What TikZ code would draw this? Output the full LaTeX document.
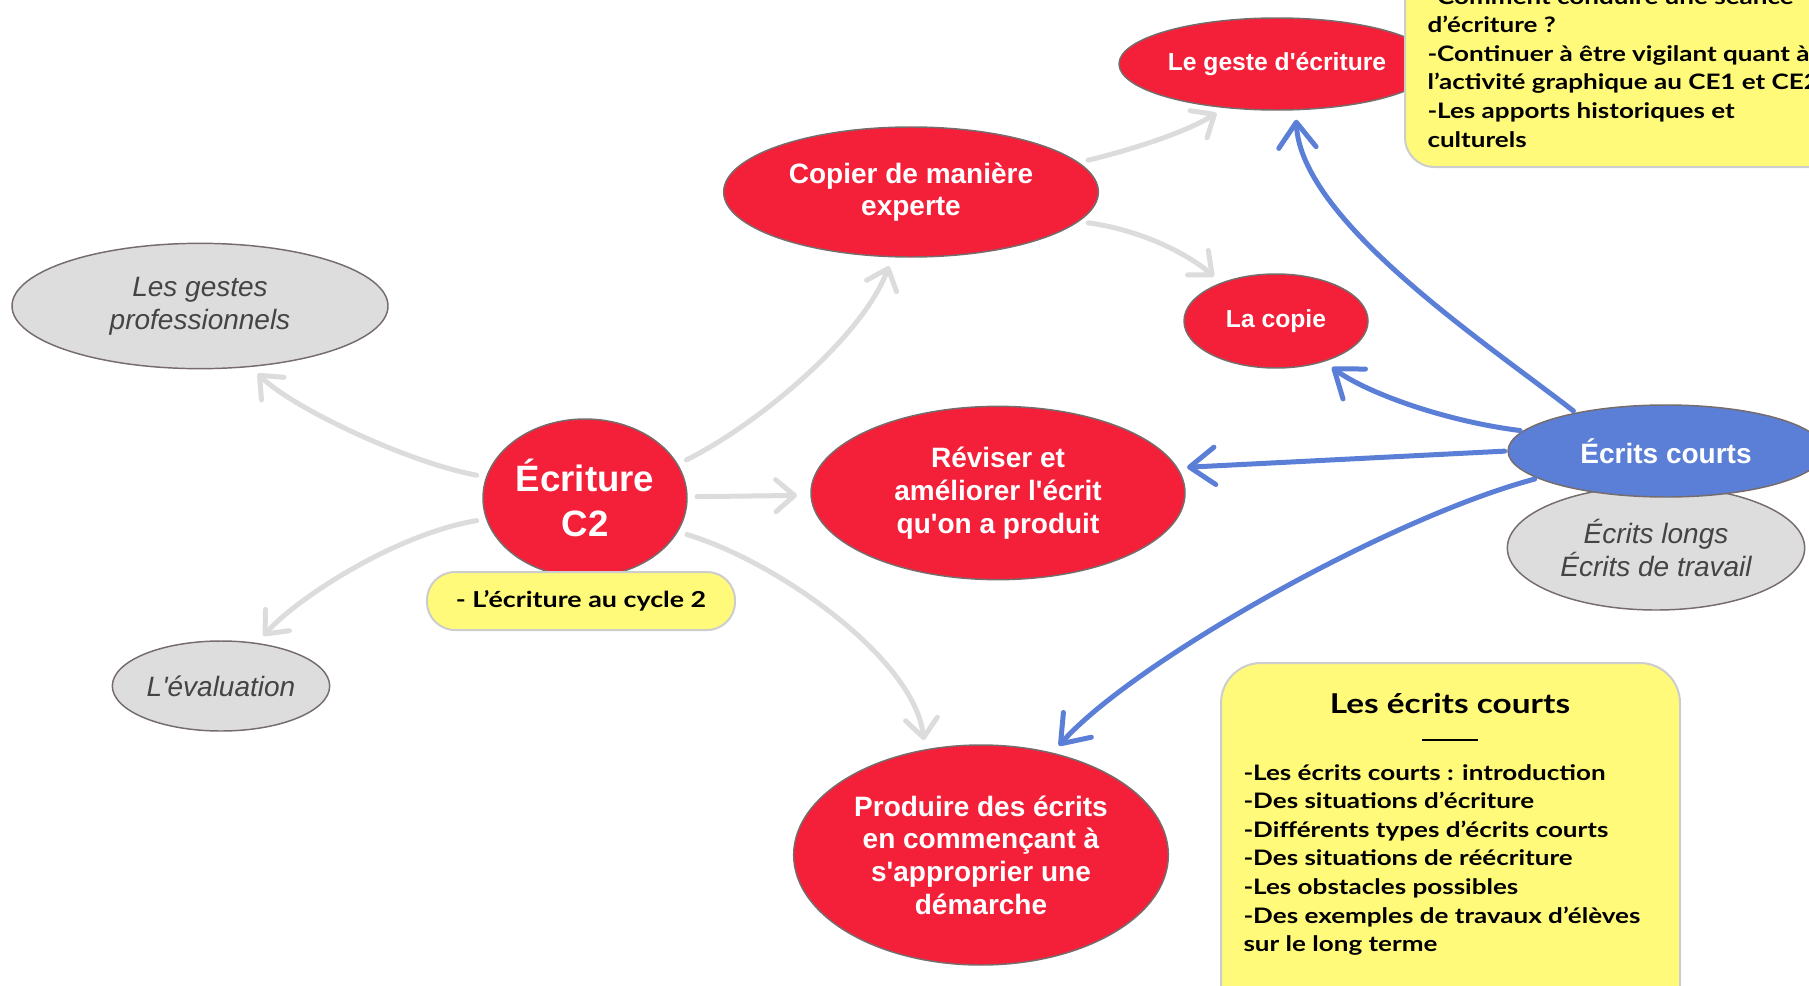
\documentclass[tikz,border=0pt]{standalone}
\usepackage{fontspec}
\setmainfont{Liberation Sans}
\newfontfamily\bubfont{Liberation Sans}
\newfontfamily\notefont{Lato}[FakeStretch=1.22]
\usetikzlibrary{shapes.geometric,arrows.meta}

\definecolor{bubred}{RGB}{244,32,58}
\definecolor{bubblue}{RGB}{91,127,214}
\definecolor{bubgray}{RGB}{221,221,221}
\definecolor{bubedge}{RGB}{118,108,108}
\definecolor{graytxt}{RGB}{68,68,68}
\definecolor{linkgray}{RGB}{220,220,220}
\definecolor{notefill}{RGB}{255,250,122}
\definecolor{noteedge}{RGB}{205,205,205}

\tikzset{every picture/.style={line width=0.75pt}}
\tikzset{
  bub/.style={ellipse, draw=bubedge, line width=1.1pt, inner sep=0pt, align=center},
  redbub/.style={bub, fill=bubred, text=white, font=\bubfont\bfseries\fontsize{21}{24.5}\selectfont},
  bluebub/.style={bub, fill=bubblue, text=white, font=\bubfont\bfseries\fontsize{21}{25}\selectfont},
  graybub/.style={bub, fill=bubgray, text=graytxt, font=\bubfont\itshape\fontsize{21}{25}\selectfont},
  notebox/.style={draw=noteedge, line width=1.5pt, fill=notefill},
  notetext/.style={inner sep=0pt, align=left, font=\notefont\bfseries\fontsize{16}{21.4}\selectfont},
  graylink/.style={draw=linkgray, line width=3.75pt, line cap=round, shorten <=7pt, shorten >=7pt,
    -{Straight Barb[length=14pt,width=24pt,line cap=round,line join=round]}},
  bluelink/.style={draw=bubblue, line width=3.75pt, line cap=round, shorten <=2pt, shorten >=7pt,
    -{Straight Barb[length=19pt,width=28pt,line cap=round,line join=round]}},
}

\begin{document}
\begin{tikzpicture}[x=0.75pt,y=0.75pt,yscale=-1,xscale=1]
\useasboundingbox (0,0) rectangle (1809,985);

%Ellipse: centre
\draw (585,498) node [redbub, minimum width=153pt, minimum height=118.5pt] [font=\bubfont\bfseries\fontsize{27.5}{34}\selectfont] (c2) {Écriture\\C2};

%Ellipses: grey side topics
\draw (200,306) node [graybub, minimum width=282pt, minimum height=94pt] (gestes) {Les gestes\\professionnels};
\draw (221,686) node [graybub, minimum width=163pt, minimum height=67.5pt] (evaluation) {L'évaluation};

%Ellipses: red topics
\draw (911,192) node [redbub, minimum width=281pt, minimum height=97.5pt] (copier) {Copier de manière\\experte};
\draw (998,493) node [redbub, minimum width=280.5pt, minimum height=130pt] (reviser) {Réviser et\\améliorer l'écrit\\qu'on a produit};
\draw (981,855) node [redbub, minimum width=281pt, minimum height=165pt] (produire) {Produire des écrits\\en commençant à\\s'approprier une\\démarche};
\draw (1277,64) node [redbub, minimum width=237pt, minimum height=69pt] [font=\bubfont\bfseries\fontsize{18.5}{22}\selectfont] (geste) {Le geste d'écriture};
\draw (1276,321) node [redbub, minimum width=138pt, minimum height=70.5pt] [font=\bubfont\bfseries\fontsize{18.5}{22}\selectfont] (copie) {La copie};

%Ellipses: kinds of writing
\draw (1656,548) node [graybub, minimum width=223pt, minimum height=93pt] (longs) {Écrits longs\\Écrits de travail};
\draw (1666,451) node [bluebub, minimum width=237pt, minimum height=69pt] (courts) {Écrits courts};

%Grey links
\draw [graylink] (c2.168) .. controls +(-80,-15) and +(40,40) .. (gestes.-50);
\draw [graylink] (c2.192) .. controls +(-90,15) and +(40,-45) .. (evaluation.50);
\draw [graylink] (c2.20) .. controls +(80,-40) and +(-30,80) .. (copier.-106);
\draw [graylink, shorten >=10pt] (c2) -- (reviser);
\draw [graylink] (c2.-20) .. controls +(100,30) and +(-10,-90) .. (produire.118);
\draw [graylink] (copier.10) .. controls +(50,-12) and +(-40,25) .. (geste.-140);
\draw [graylink] (copier.-10) .. controls +(60,8) and +(-35,-30) .. (copie.145);

%Blue links
\draw [bluelink] (courts.157) .. controls +(-90,-70) and +(5,110) .. (geste.-68);
\draw [bluelink] (courts.172) .. controls +(-80,-10) and +(40,30) .. (copie.-40);
\draw [bluelink] (courts.west) -- (reviser.8);
\draw [bluelink] (courts.-168) .. controls +(-150,40) and +(80,-90) .. (produire.55);

%Yellow notes
\draw (581,601) node [notebox, rounded corners=21pt, minimum width=231pt, minimum height=43.5pt] [font=\notefont\bfseries\fontsize{16.5}{20}\selectfont] (cycle) {- L’écriture au cycle 2};

\draw [notebox, rounded corners=22pt] (1405,-60) rectangle (1870,167);
\draw (1427,-12) node [notetext, anchor=north west] (seance) {-Comment conduire une séance\\d’écriture ?\\-Continuer à être vigilant quant à\\l’activité graphique au CE1 et CE2\\-Les apports historiques et\\culturels};

\draw [notebox, rounded corners=30pt] (1221,663) rectangle (1680,1040);
\draw (1450,703) node [inner sep=0pt] [font=\notefont\bfseries\fontsize{20.5}{24}\selectfont] (titre) {Les écrits courts};
\draw [line width=1.5pt] (1422,740) -- (1478,740);
\draw (1243,764) node [notetext, anchor=north west] (liste) {-Les écrits courts : introduction\\-Des situations d’écriture\\-Différents types d’écrits courts\\-Des situations de réécriture\\-Les obstacles possibles\\-Des exemples de travaux d’élèves\\sur le long terme};

\end{tikzpicture}
\end{document}
